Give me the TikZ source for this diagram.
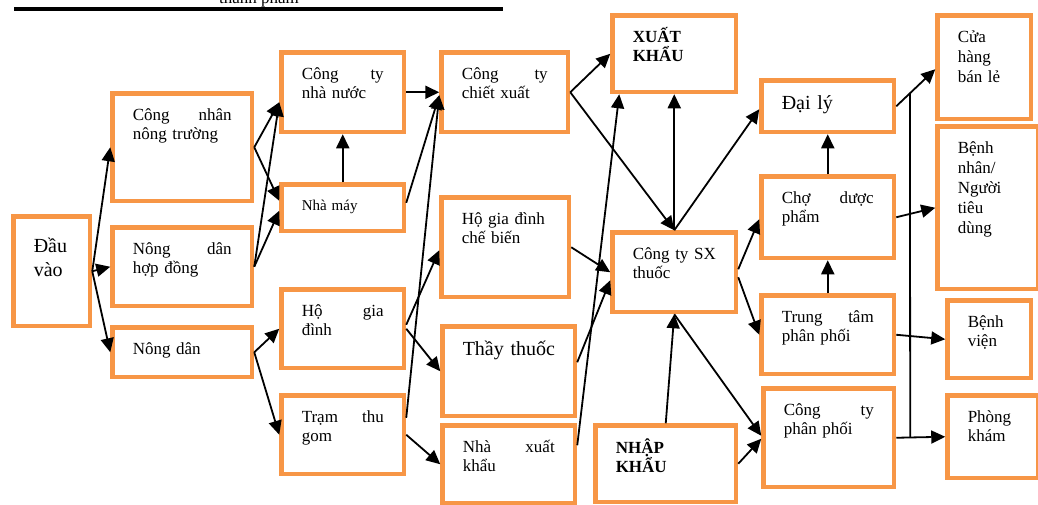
\documentclass[tikz,border=0pt]{standalone}
\usepackage{fontspec}
\setmainfont{Liberation Serif}
\usetikzlibrary{arrows.meta,calc}
\definecolor{boxorange}{RGB}{247,150,70}
\begin{document}
\begin{tikzpicture}[x=1pt,y=-1pt,
  box/.style={draw=boxorange, line width=4.5pt, inner xsep=20.25pt, inner ysep=13.25pt,
    anchor=north west, align=left, text height=14pt, font=\fontsize{17}{19}\selectfont},
  big/.style={font=\fontsize{20}{23.5}\selectfont},
  boldtext/.style={font=\fontsize{17}{19}\selectfont\bfseries},
  arr/.style={-{Triangle[length=14pt,width=13pt]}, line width=1.8pt},
  ln/.style={line width=1.8pt}]
\useasboundingbox (0,0) rectangle (1038,504);

% caption fragment and rule at the top
\node[anchor=base, font=\fontsize{17}{19}\selectfont] (caption) at (259,3) {thành phẩm};
\draw[line width=4pt] (14,8.7) -- (503,8.7);

% boxes
\node[box, big, text width=36pt, text height=23.2pt, text depth=59.8pt] (dauvao) at (11.25,214.25) {Đầu\\vào};
\node[box, text width=99pt, text depth=67pt] (congnhan) at (110.25,91.25) {Công\hfill nhân\\nông~trường};
\node[box, text width=99pt, text depth=38pt] (nongdanhd) at (110.25,225.25) {Nông\hfill dân\\hợp~đồng};
\node[box, text width=99pt, text depth=9pt] (nongdan) at (110.25,325.25) {Nông~dân};
\node[box, text width=82pt, text depth=39pt] (ctnn) at (279.25,50.25) {Công\hfill ty\\nhà~nước};
\node[box, text width=82pt, text height=12.5pt, text depth=7.5pt, font=\fontsize{15}{17}\selectfont] (nhamay) at (279.25,182.25) {Nhà~máy};
\node[box, text width=82pt, text depth=38pt] (hogd) at (279.25,287.25) {Hộ\hfill gia\\đình};
\node[box, text width=82pt, text depth=38pt] (tram) at (279.25,393.25) {Trạm\hfill thu\\gom};
\node[box, text width=86pt, text depth=39pt] (chietxuat) at (439.25,50.25) {Công\hfill ty\\chiết~xuất};
\node[box, text width=87pt, text depth=59pt] (hgdcb) at (439.25,195.25) {Hộ~gia~đình\\chế~biến};
\node[box, big, text width=92pt, text height=15.5pt, text depth=47.5pt] (thaythuoc) at (440.25,324.25) {Thầy~thuốc};
\node[box, text width=92pt, text depth=37pt] (nhaxk) at (440.25,423.25) {Nhà\hfill xuất\\khẩu};
\node[box, boldtext, text width=83pt, text depth=36pt] (xuatkhau) at (610.25,13.25) {XUẤT\\KHẨU};
\node[box, text width=83pt, text depth=39pt] (sx) at (610.25,230.25) {Công~ty~SX\\thuốc};
\node[box, boldtext, text width=100pt, text height=15pt, text depth=35pt] (nhapkhau) at (593.25,423.25) {NHẬP\\KHẨU};
\node[box, big, text width=92pt, text height=15.5pt, text depth=9.5pt] (daily) at (759.25,78.25) {Đại~lý};
\node[box, text width=92pt, text depth=41pt] (cho) at (759.25,174.25) {Chợ\hfill dược\\phẩm};
\node[box, text width=92pt, text depth=38pt] (trungtam) at (759.25,293.25) {Trung\hfill tâm\\phân~phối};
\node[box, text width=90pt, text depth=58pt] (ctpp) at (761.25,386.25) {Công\hfill ty\\phân~phối};
\node[box, text width=53pt, text depth=63pt, font=\fontsize{17}{20}\selectfont] (cuahang) at (935.25,13.25) {Cửa\\hàng\\bán~lẻ};
\node[box, text width=60pt, text depth=122pt, font=\fontsize{17}{20}\selectfont] (benhnhan) at (935.25,124.25) {Bệnh\\nhân/\\Người\\tiêu\\dùng};
\node[box, text width=43pt, text depth=37pt] (benhvien) at (945.25,298.25) {Bệnh\\viện};
\node[box, text width=50pt, text depth=42pt] (phongkham) at (945.25,393.25) {Phòng\\khám};

% connectors
\draw[arr] (dauvao.east) -- (congnhan.west);
\draw[arr] (dauvao.east) -- (nongdanhd.west);
\draw[arr] (dauvao.east) -- (nongdan.west);
\draw[arr] (congnhan.east) -- ($(ctnn.west)+(0,10)$);
\draw[arr] (congnhan.east) -- ($(nhamay.west)+(0,-7)$);
\draw[arr] (nongdanhd.east) -- ($(ctnn.west)+(0,10)$);
\draw[arr] (nongdanhd.east) -- ($(nhamay.west)+(0,3)$);
\draw[arr] (nongdan.east) -- (hogd.west);
\draw[arr] (nongdan.east) -- (tram.west);
\draw[arr] (nhamay.north) -- (ctnn.south);
\draw[arr] (ctnn.east) -- (chietxuat.west);
\draw[arr] ($(nhamay.east)+(0,-5)$) -- ($(chietxuat.west)+(0,3)$);
\draw[arr] ($(tram.east)+(0,-17)$) -- ($(chietxuat.west)+(0,3)$);
\draw[arr] ($(hogd.east)+(0,-4)$) -- ($(hgdcb.west)+(0,3)$);
\draw[arr] (hogd.east) -- (thaythuoc.west);
\draw[arr] (tram.east) -- (nhaxk.west);
\draw[arr] (chietxuat.east) -- (xuatkhau.west);
\draw[arr] (chietxuat.east) -- (sx.north);
\draw[arr] (hgdcb.east) -- (sx.west);
\draw[arr] ($(thaythuoc.east)+(0,-9)$) -- ($(sx.west)+(0,8)$);
\draw[arr] ($(nhaxk.east)+(0,-19)$) -- ($(xuatkhau.south)+(-55,0)$);
\draw[arr] (sx.north) -- (xuatkhau.south);
\draw[arr] (sx.north) -- ($(daily.west)+(0,3)$);
\draw[arr] ($(sx.east)+(0,-3)$) -- ($(cho.west)+(0,2)$);
\draw[arr] ($(sx.east)+(0,5)$) -- (trungtam.west);
\draw[arr] (nhapkhau.north) -- (sx.south);
\draw[arr] (sx.south) -- ($(ctpp.west)+(0,-2)$);
\draw[arr] (nhapkhau.east) -- ($(ctpp.west)+(0,1)$);
\draw[arr] (cho.north) -- (daily.south);
\draw[arr] (trungtam.north) -- (cho.south);
\draw[arr] (daily.east) -- coordinate[pos=0.35] (vtop) ($(cuahang.west)+(0,2)$);
\draw[arr] (cho.east) -- (benhnhan.west);
\draw[arr] (trungtam.east) -- (benhvien.west);
\draw[arr] (ctpp.east) -- coordinate[pos=0.285] (vbot) (phongkham.west);
\draw[ln] (vtop) -- (vbot);
\end{tikzpicture}
\end{document}
